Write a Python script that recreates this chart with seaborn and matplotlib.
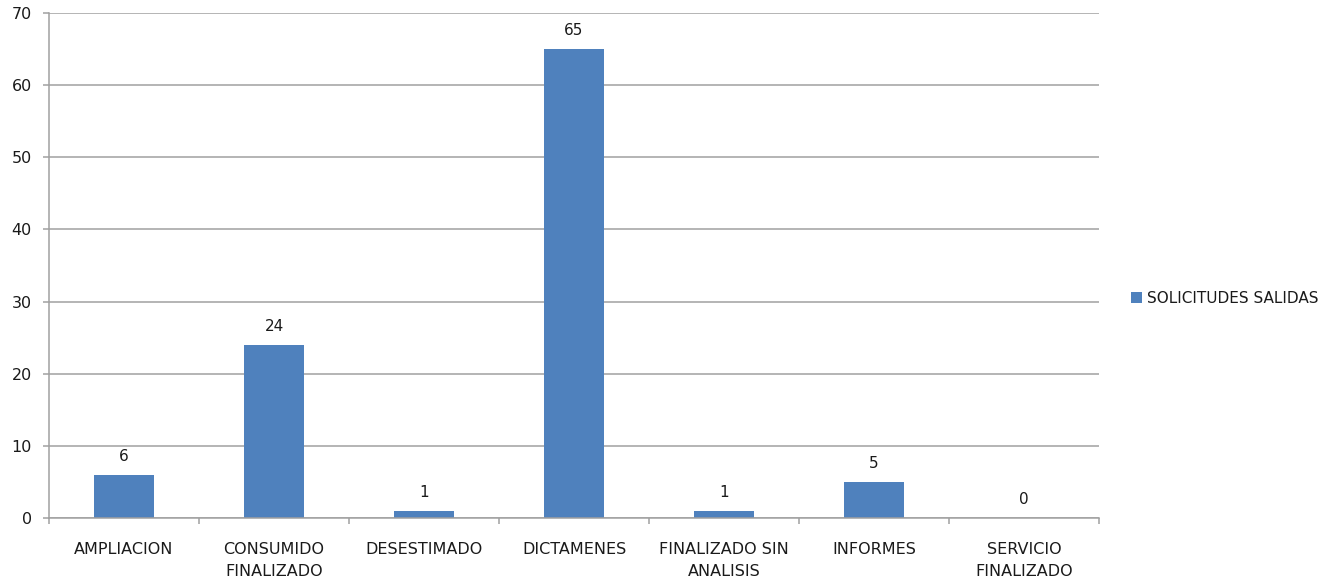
import matplotlib
matplotlib.use("Agg")
import matplotlib.pyplot as plt
import seaborn as sns
import pandas as pd

categories = ["AMPLIACION", "CONSUMIDO\nFINALIZADO", "DESESTIMADO", "DICTAMENES",
              "FINALIZADO SIN\nANALISIS", "INFORMES", "SERVICIO\nFINALIZADO"]
values = [6, 24, 1, 65, 1, 5, 0]
series_name = "SOLICITUDES SALIDAS"
y_ticks = [0, 10, 20, 30, 40, 50, 60, 70]

sns.set_style("white")
plt.rcParams['font.family'] = ['DejaVu Sans']

df = pd.DataFrame({"cat": categories, "val": values, "serie": series_name})

fig = plt.figure(figsize=(13.33, 5.82), dpi=100)
ax = fig.add_axes([49/1333, 1-518/582, 1050/1333, 505/582])

bar_color = "#4F81BD"
fs = 11
sns.barplot(data=df, x="cat", y="val", hue="serie", palette=[bar_color],
            width=0.4, ax=ax, saturation=1, legend=True, linewidth=0)

ax.set_ylim(0, 70)
ax.set_xlim(-0.5, len(categories) - 0.5)
ax.set_yticks(y_ticks)
ax.set_yticklabels([str(t) for t in y_ticks], fontsize=fs + 0.5, color="#1a1a1a")
ax.yaxis.grid(True, color="#A0A0A0", linewidth=1.1)
ax.set_axisbelow(True)
ax.set_xlabel("")
ax.set_ylabel("")

# x ticks at category boundaries
ax.set_xticks([i - 0.5 for i in range(len(categories) + 1)], minor=False)
ax.set_xticklabels([])
ax.set_xticks(range(len(categories)), minor=True)
ax.set_xticklabels(categories, minor=True, fontsize=fs + 0.5, color="#1a1a1a", linespacing=1.6)
ax.tick_params(axis="x", which="major", direction="out", length=4.5, width=1.1, color="#A0A0A0", bottom=True)
ax.tick_params(axis="x", which="minor", length=0, pad=17)
ax.tick_params(axis="y", direction="out", length=4.5, width=1.1, color="#A0A0A0", left=True, pad=8)

for s in ["top", "right"]:
    ax.spines[s].set_visible(False)
for s in ["left", "bottom"]:
    ax.spines[s].set_color("#A0A0A0")
    ax.spines[s].set_linewidth(1.1)

for c in ax.containers:
    ax.bar_label(c, labels=[str(v) for v in values], padding=8, fontsize=fs, color="#1a1a1a")

leg = ax.legend(loc="center left", bbox_to_anchor=(1.017, 0.435), frameon=False,
                fontsize=fs, handlelength=0.75, handleheight=0.75, handletextpad=0.35)
for t in leg.get_texts():
    t.set_color("#1a1a1a")

fig.savefig("out.png", dpi=100)
